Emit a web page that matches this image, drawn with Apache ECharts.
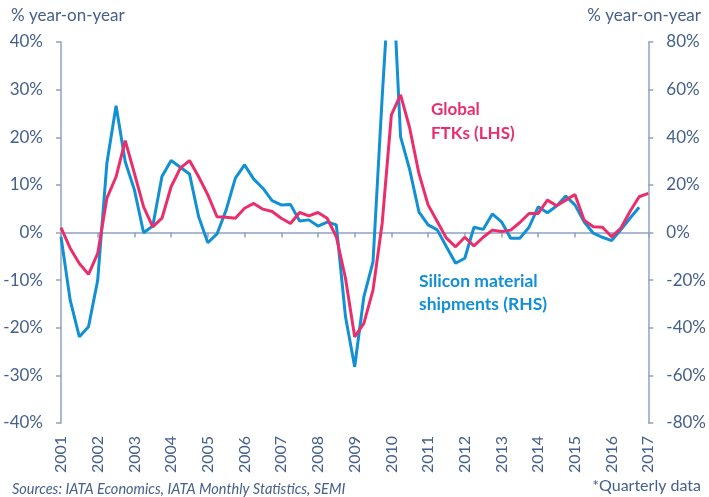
<!DOCTYPE html>
<html>
<head>
<meta charset="utf-8">
<script src="https://cdn.jsdelivr.net/npm/echarts@6/dist/echarts.min.js"></script>
<style>
  html, body { margin: 0; padding: 0; background: #fff; }
  #chart { width: 709px; height: 497px; }
</style>
</head>
<body>
<div id="chart"></div>
<script>
// quarterly data, first quarter of 2001 onwards
var startYear = 2001;
// Global FTKs, % yoy (LHS), 2001Q1 .. 2017Q1
var ftks = [
  1.0, -3.3, -6.5, -8.8,
  -4.4, 7.2, 11.7, 19.3,
  12.4, 5.4, 1.2, 3.0,
  9.6, 13.5, 15.1, 11.7,
  7.9, 3.3, 3.2, 3.0,
  5.1, 6.1, 4.9, 4.4,
  3.0, 1.9, 4.2, 3.5,
  4.2, 3.0, -0.9, -9.6,
  -21.9, -19.1, -12.1, 2.0,
  24.7, 28.9, 21.9, 12.4,
  5.8, 2.3, -1.2, -3.0,
  -1.0, -2.8, -1.0, 0.5,
  0.2, 0.5, 2.1, 4.0,
  4.0, 6.8, 5.6, 6.8,
  8.0, 2.6, 1.2, 1.1,
  -0.9, 0.9, 4.4, 7.5,
  8.2
];
// Silicon material shipments, % yoy (RHS), 2001Q1 .. 2016Q4
var silicon = [
  -1.8, -28.4, -43.8, -39.6,
  -20.0, 29.1, 53.2, 29.7,
  17.9, -0.1, 2.7, 23.5,
  30.2, 27.4, 24.6, 6.6,
  -4.3, -0.6, 9.5, 22.8,
  28.4, 22.4, 18.6, 13.4,
  11.6, 11.8, 4.8, 5.3,
  2.7, 4.4, 3.2, -35.4,
  -56.4, -27.0, -12.3, 57.0,
  120.0, 40.3, 26.3, 8.7,
  3.2, 1.1, -6.0, -12.9,
  -10.8, 2.2, 1.3, 7.8,
  4.5, -2.4, -2.4, 2.2,
  10.8, 8.3, 11.1, 15.3,
  11.6, 4.5, -0.3, -2.0,
  -3.4, 1.1, 6.0, 10.6
];

function toPoints(arr) {
  var out = [];
  for (var i = 0; i < arr.length; i++) {
    out.push([startYear + i / 4, arr[i]]);
  }
  return out;
}

var pink = '#ea2e6c';
var blue = '#1190d4';
var textCol = '#45608a';
var axisCol = '#8fa3c1';
var font = 'Lato, "Open Sans", sans-serif';

var chart = echarts.init(document.getElementById('chart'));
chart.setOption({
  animation: false,
  textStyle: { fontFamily: font },
  grid: { left: 61, right: 59, top: 42, bottom: 74 },
  graphic: [
    { type: 'text', left: 11, top: 7, style: { text: '% year-on-year', font: '17px ' + font, fill: textCol } },
    { type: 'text', right: 8, top: 7, style: { text: '% year-on-year', font: '17px ' + font, fill: textCol } },
    { type: 'text', left: 431, top: 98, style: { text: 'Global\nFTKs (LHS)', font: 'bold 17px ' + font, fill: pink, lineHeight: 24 } },
    { type: 'text', left: 419, top: 270, style: { text: 'Silicon material\nshipments (RHS)', font: 'bold 17.5px ' + font, fill: blue, lineHeight: 23 } },
    { type: 'text', left: 12, top: 482, style: { text: 'Sources: IATA Economics, IATA Monthly Statistics, SEMI', font: 'italic 14.5px ' + font, fill: textCol } },
    { type: 'text', right: 8, top: 478, style: { text: '*Quarterly data', font: '16px ' + font, fill: textCol } }
  ],
  xAxis: {
    type: 'value',
    min: 2001,
    max: 2017,
    interval: 1,
    splitLine: { show: false },
    axisLine: { lineStyle: { color: axisCol, width: 1.5 } },
    axisTick: { show: true, length: 5, lineStyle: { color: axisCol, width: 1.5 } },
    axisLabel: { rotate: 90, color: textCol, fontSize: 16, margin: 13, formatter: function (v) { return String(v); } }
  },
  yAxis: [
    {
      type: 'value',
      min: -40,
      max: 40,
      interval: 10,
      position: 'left',
      splitLine: { show: false },
      axisLine: { show: true, lineStyle: { color: axisCol, width: 1.5 } },
      axisTick: { show: true, length: 5, lineStyle: { color: axisCol, width: 1.5 } },
      axisLabel: { color: textCol, fontSize: 17, margin: 18, formatter: '{value}%' }
    },
    {
      type: 'value',
      min: -80,
      max: 80,
      interval: 20,
      position: 'right',
      splitLine: { show: false },
      axisLine: { show: true, lineStyle: { color: axisCol, width: 1.5 } },
      axisTick: { show: true, length: 5, lineStyle: { color: axisCol, width: 1.5 } },
      axisLabel: { color: textCol, fontSize: 17, margin: 18, formatter: '{value}%' }
    }
  ],
  series: [
    {
      name: 'Global FTKs (LHS)',
      type: 'line',
      yAxisIndex: 0,
      data: toPoints(ftks),
      showSymbol: false,
      clip: true,
      lineStyle: { color: pink, width: 3 },
      z: 3
    },
    {
      name: 'Silicon material shipments (RHS)',
      type: 'line',
      yAxisIndex: 1,
      data: toPoints(silicon),
      showSymbol: false,
      clip: true,
      lineStyle: { color: blue, width: 3 },
      z: 2
    }
  ]
});
</script>
</body>
</html>
